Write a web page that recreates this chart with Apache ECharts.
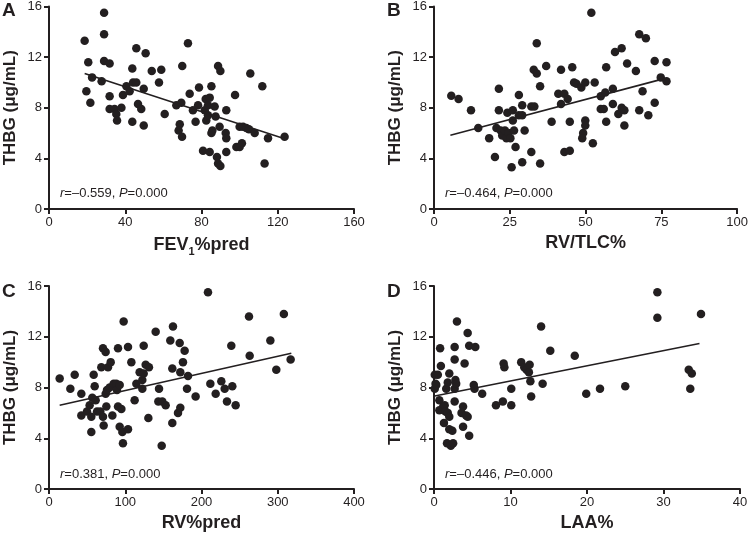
<!DOCTYPE html>
<html>
<head>
<meta charset="utf-8">
<script src="https://cdn.jsdelivr.net/npm/echarts@6/dist/echarts.min.js"></script>
<style>
  html, body { margin: 0; padding: 0; background: #fff; }
  #chart { width: 751px; height: 536px; }
</style>
</head>
<body>
<div id="chart"></div>
<script>
// panel A: FEV1%pred vs THBG
var aX = [18.7, 28.9, 28.9, 28.9, 31.8, 20.6, 22.6, 27.6, 19.6, 21.7, 31.8, 31.8, 34.4, 35.3, 35.7, 38.0, 38.8, 40.6, 42.3, 43.7,
          44.1, 45.8, 45.8, 46.7, 48.4, 43.7, 49.7, 49.7, 50.7, 53.9, 57.7, 58.9, 60.7, 66.8, 68.6, 68.0, 69.8, 69.4, 69.9, 72.9,
          73.8, 75.5, 76.9, 78.2, 78.7, 80.8, 81.7, 82.2, 82.5, 83.4, 83.4, 84.3, 84.3, 85.2, 85.7, 85.2, 86.9, 87.4, 88.1, 88.7,
          89.9, 89.5, 88.7, 89.9, 92.7, 93.0, 93.0, 93.0, 97.6, 98.3, 100.0, 100.0, 101.8, 101.2, 103.5, 104.9, 105.6, 107.9, 111.9, 113.1,
          114.9, 123.6];
var aY = [13.3, 15.5, 13.8, 11.7, 11.5, 11.6, 10.4, 10.1, 9.3, 8.4, 8.9, 7.9, 7.9, 7.5, 7.0, 8.0, 9.0, 9.7, 9.3, 11.1,
          10.0, 10.0, 12.7, 8.3, 7.9, 6.9, 9.5, 6.6, 12.3, 10.9, 10.0, 11.0, 7.5, 8.2, 6.7, 6.2, 5.7, 8.4, 11.3, 13.1,
          9.1, 7.8, 6.9, 8.2, 9.6, 4.6, 7.8, 8.7, 7.0, 7.4, 8.2, 8.8, 4.5, 6.0, 6.2, 9.7, 8.1, 7.3, 4.1, 3.6,
          3.4, 6.5, 11.3, 10.9, 6.0, 5.6, 7.8, 4.5, 9.0, 4.9, 4.9, 6.5, 6.5, 5.2, 6.4, 6.3, 10.7, 6.0, 9.7, 3.6,
          5.6, 5.7];
var aFitX = [18.7, 123.6];
var aFitY = [10.7, 5.55];

// panel B: RV/TLC% vs THBG
var bX = [5.7, 8.1, 12.2, 14.6, 18.2, 20.1, 21.4, 20.6, 21.4, 22.0, 22.5, 23.4, 23.9, 24.2, 24.5, 25.2, 25.6, 26.0, 26.0, 26.4,
          26.9, 28.0, 28.0, 29.1, 29.1, 29.1, 29.9, 32.1, 32.1, 33.1, 32.9, 33.9, 33.9, 35.0, 35.0, 37.0, 38.8, 41.0, 41.9, 41.9,
          43.0, 43.0, 44.1, 44.8, 44.8, 45.6, 46.2, 47.0, 48.6, 49.2, 48.9, 49.9, 49.9, 49.9, 52.4, 51.9, 53.0, 55.0, 55.0, 56.0,
          56.5, 56.8, 56.8, 59.0, 59.0, 59.7, 60.8, 61.9, 61.9, 62.8, 62.8, 63.7, 66.6, 67.7, 67.7, 68.8, 69.9, 70.7, 72.8, 72.8,
          74.8, 76.7, 76.7];
var bY = [8.95, 8.7, 7.8, 6.4, 5.6, 4.1, 9.5, 6.4, 7.8, 6.2, 5.8, 6.2, 5.6, 7.6, 6.0, 5.6, 3.3, 7.8, 7.0, 6.2,
          4.9, 9.0, 7.4, 8.2, 3.7, 7.4, 6.2, 4.5, 8.1, 8.1, 11.0, 10.7, 13.1, 9.7, 3.6, 11.3, 6.9, 9.1, 11.0, 8.3,
          9.1, 4.5, 8.7, 6.9, 4.6, 11.2, 10.0, 9.9, 9.6, 6.0, 5.6, 10.0, 7.0, 6.6, 5.2, 15.5, 10.0, 8.9, 7.9, 7.9,
          9.2, 6.9, 11.2, 9.5, 8.3, 12.4, 7.5, 12.7, 8.0, 7.8, 6.6, 11.5, 10.9, 13.8, 7.8, 9.3, 13.5, 7.4, 8.4, 11.7,
          10.4, 11.6, 10.1];
var bFitX = [5.4, 75.3];
var bFitY = [5.82, 10.26];

// panel C: RV%pred vs THBG
var cX = [14.0, 28.0, 33.7, 42.4, 42.4, 49.8, 53.3, 55.5, 55.5, 56.8, 58.6, 59.9, 61.2, 63.0, 67.3, 68.6, 70.8, 70.8, 71.7, 74.3,
          74.3, 75.2, 76.1, 77.4, 79.6, 80.9, 83.1, 84.8, 88.3, 89.2, 90.5, 90.5, 92.7, 92.7, 94.9, 96.2, 97.0, 97.9, 103.6, 103.6,
          108.0, 112.3, 114.6, 118.9, 122.4, 122.4, 124.2, 124.2, 126.8, 131.1, 130.3, 139.9, 144.3, 143.4, 148.6, 147.8, 153.0, 159.1, 161.7, 161.7,
          162.6, 169.2, 171.4, 172.2, 172.2, 175.7, 177.9, 181.0, 182.3, 192.3, 208.5, 211.6, 218.6, 226.0, 230.4, 233.4, 239.1, 240.4, 244.8, 262.3,
          263.2, 290.3, 298.1, 308.0, 316.9];
var cY = [8.7, 7.9, 9.0, 7.5, 5.8, 6.1, 6.6, 5.7, 4.5, 7.2, 9.0, 8.1, 7.0, 6.1, 6.1, 9.6, 11.1, 5.7, 5.0, 10.8,
          7.5, 6.5, 7.8, 9.6, 8.0, 10.0, 5.8, 8.3, 8.3, 7.8, 11.1, 6.5, 8.2, 4.9, 6.3, 4.5, 3.6, 13.2, 4.7, 11.2,
          10.0, 7.0, 8.3, 9.2, 8.6, 7.9, 11.3, 9.1, 9.8, 9.6, 5.6, 12.4, 7.9, 6.9, 6.9, 3.4, 6.6, 11.7, 9.5, 5.2,
          12.8, 6.0, 11.5, 9.2, 6.4, 10.0, 10.9, 7.9, 8.9, 7.3, 15.5, 8.3, 7.5, 8.5, 7.9, 6.9, 11.3, 8.1, 6.6, 13.6,
          10.5, 11.7, 9.4, 13.8, 10.2];
var cFitX = [14.0, 317.8];
var cFitY = [6.6, 10.7];

// panel D: LAA% vs THBG
var dX = [0.1, 0.5, 0.2, 0.1, 0.3, 0.7, 0.7, 0.8, 0.9, 1.2, 1.4, 1.5, 1.3, 1.6, 1.8, 2.0, 1.8, 2.0, 1.7, 2.0,
          2.2, 2.4, 2.5, 2.7, 2.7, 2.7, 2.7, 2.8, 2.9, 3.0, 3.8, 3.8, 3.6, 4.0, 4.2, 4.4, 4.4, 4.6, 4.6, 5.2,
          5.3, 5.4, 6.3, 8.1, 9.0, 9.1, 9.2, 10.1, 10.1, 11.4, 11.8, 12.1, 12.4, 12.5, 12.6, 12.7, 14.0, 14.2, 15.2, 18.4,
          19.9, 21.7, 25.0, 29.2, 29.2, 33.3, 33.7, 33.5, 34.9];
var dY = [9.0, 9.0, 8.3, 7.9, 8.2, 7.0, 6.2, 11.1, 9.7, 6.5, 6.6, 6.1, 5.2, 7.9, 6.0, 9.1, 8.4, 5.7, 3.6, 4.7,
          3.4, 4.6, 3.6, 10.2, 11.2, 6.9, 7.9, 8.6, 8.3, 13.2, 6.5, 4.9, 6.0, 9.9, 5.8, 12.3, 5.7, 4.2, 11.3, 8.2,
          7.9, 11.2, 7.5, 6.6, 6.9, 9.9, 9.6, 6.6, 7.9, 10.0, 9.6, 9.4, 9.2, 9.8, 8.5, 7.3, 12.8, 8.3, 10.9, 10.5,
          7.5, 7.9, 8.1, 15.5, 13.5, 9.4, 9.1, 7.9, 13.8];
var dFitX = [0.1, 34.7];
var dFitY = [7.33, 11.47];

var letters = ['A', 'B', 'C', 'D'];
var xNames = ['FEV{sub|1}%pred', 'RV/TLC%', 'RV%pred', 'LAA%'];
var xMax = [160, 100, 400, 40];
var xStep = [40, 25, 100, 10];
var notes = ['{i|r}=\u20130.559, {i|P}=0.000', '{i|r}=\u20130.464, {i|P}=0.000',
             '{i|r}=0.381, {i|P}=0.000', '{i|r}=\u20130.446, {i|P}=0.000'];

var xs = [aX, bX, cX, dX], ys = [aY, bY, cY, dY];
var fxs = [aFitX, bFitX, cFitX, dFitX], fys = [aFitY, bFitY, cFitY, dFitY];

function zip(a, b) {
    return a.map(function (v, i) { return [v, b[i]]; });
}

var FONT = '"Liberation Sans", Arial, Helvetica, sans-serif';
var INK = '#231f20';
var grids = [
    {left: 49, top: 5, width: 305, height: 204},
    {left: 434, top: 5, width: 306, height: 204},
    {left: 49, top: 286, width: 305, height: 203},
    {left: 434, top: 286, width: 306, height: 203}
];

var xAxes = [], yAxes = [], series = [], graphics = [];
for (var k = 0; k < 4; k++) {
    xAxes.push({
        gridIndex: k, type: 'value', min: 0, max: xMax[k], interval: xStep[k],
        name: xNames[k], nameLocation: 'middle', nameGap: 25,
        nameTextStyle: {
            fontFamily: FONT, fontSize: 18, fontWeight: 'bold', color: INK,
            rich: {sub: {fontFamily: FONT, fontSize: 11, fontWeight: 'bold', color: INK, verticalAlign: 'bottom', padding: [12, 0, 0, 0]}}
        },
        splitLine: {show: false},
        axisLine: {lineStyle: {color: INK, width: 2}},
        axisTick: {length: 5, lineStyle: {color: INK, width: 2}},
        axisLabel: {fontFamily: FONT, fontSize: 13, color: INK, margin: 7}
    });
    yAxes.push({
        gridIndex: k, type: 'value', min: 0, max: 16, interval: 4,
        name: 'THBG (\u03bcg/mL)', nameLocation: 'middle', nameGap: 30,
        nameTextStyle: {fontFamily: FONT, fontSize: 17, fontWeight: 'bold', color: INK},
        splitLine: {show: false},
        axisLine: {show: true, lineStyle: {color: INK, width: 2}},
        axisTick: {show: true, length: 5, lineStyle: {color: INK, width: 2}},
        axisLabel: {fontFamily: FONT, fontSize: 13, color: INK, margin: 7}
    });
    series.push({
        type: 'scatter', xAxisIndex: k, yAxisIndex: k,
        data: zip(xs[k], ys[k]), symbolSize: 8.5,
        itemStyle: {color: INK, opacity: 1}
    });
    series.push({
        type: 'line', xAxisIndex: k, yAxisIndex: k,
        data: zip(fxs[k], fys[k]), symbol: 'none', silent: true,
        lineStyle: {color: INK, width: 1.6}
    });
    var g = grids[k];
    graphics.push({
        type: 'text', left: g.left - 47, top: g.top - 4,
        style: {text: letters[k], font: 'bold 19px ' + FONT, fill: INK}
    });
    graphics.push({
        type: 'text', left: g.left + 11, top: g.top + 182,
        style: {
            text: notes[k], font: '13px ' + FONT, fill: INK,
            rich: {i: {font: 'italic 13px ' + FONT, fill: INK}}
        }
    });
}

var chart = echarts.init(document.getElementById('chart'));
chart.setOption({
    animation: false,
    grid: grids,
    xAxis: xAxes,
    yAxis: yAxes,
    series: series,
    graphic: graphics
});
</script>
</body>
</html>
